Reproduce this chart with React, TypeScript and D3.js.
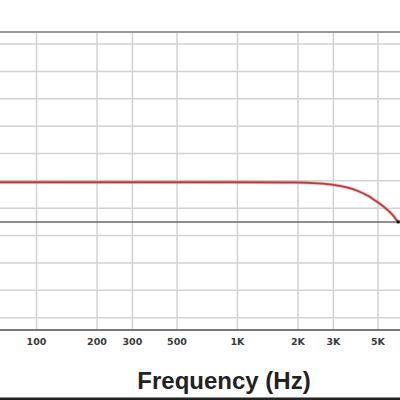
import React from 'react';
import * as d3 from 'd3';

// Frequency response (Hz, dB)
const freqs = [60, 100, 200, 500, 1000, 2000, 2500, 3000, 3500, 4000, 4500, 5000, 5500, 6000, 6300];
const levels = [-0.1, -0.1, -0.1, -0.1, -0.1, -0.12, -0.18, -0.29, -0.48, -0.76, -1.12, -1.58, -2.05, -2.6, -3.05];

const freqTicks = [100, 200, 300, 500, 1000, 2000, 3000, 5000];
const freqLabels = ['100', '200', '300', '500', '1K', '2K', '3K', '5K'];
const dbGrid = [-10, -8, -6, -4, -2, 0, 2, 4, 6, 8, 10];
const refLevel = -3;

const W = 400;
const H = 400;

export default function App() {
  const x = d3.scaleLog().domain([100, 1000]).range([36.5, 237.5]);
  const y = d3.scaleLinear().domain([10.88, -10.9]).range([32, 330]);

  const data = freqs.map((f, i) => ({ f, db: levels[i] }));
  const line = d3.line<{ f: number; db: number }>()
    .x(d => x(d.f))
    .y(d => y(d.db))
    .curve(d3.curveMonotoneX);

  const last = data[data.length - 1];
  const font = '"Liberation Sans", Arial, sans-serif';

  return (
    <svg width={W} height={H} style={{ position: 'absolute', left: 0, top: 0, background: '#fff' }}>
      {/* horizontal grid */}
      {dbGrid.map(d => (
        <line key={'h' + d} x1={0} x2={W} y1={y(d)} y2={y(d)} stroke="#d2d2d2" strokeWidth={1.5} />
      ))}
      {/* vertical grid */}
      {freqTicks.map(f => (
        <line key={'v' + f} x1={x(f)} x2={x(f)} y1={y.range()[0]} y2={y.range()[1]} stroke="#d2d2d2" strokeWidth={1.5} />
      ))}
      {/* frame top / bottom */}
      <line x1={0} x2={W} y1={y.range()[0]} y2={y.range()[0]} stroke="#999" strokeWidth={2} />
      <line x1={0} x2={W} y1={y.range()[1]} y2={y.range()[1]} stroke="#7a7a7a" strokeWidth={2} />
      {/* -3 dB reference */}
      <line x1={0} x2={W} y1={y(refLevel)} y2={y(refLevel)} stroke="#6a6a6a" strokeWidth={1.5} />

      {/* response curve */}
      <path d={line(data) || ''} fill="none" stroke="#e8a0a0" strokeWidth={3.5} strokeOpacity={0.6} />
      <path d={line(data) || ''} fill="none" stroke="#c0393b" strokeWidth={1.8} />
      <rect x={x(last.f) - 1.5} y={y(refLevel) - 1.5} width={3} height={3} fill="#111" />

      {/* tick labels */}
      {freqTicks.map((f, i) => (
        <text key={'t' + f} x={x(f)} y={345} textAnchor="middle" fontFamily='"DejaVu Sans", sans-serif'
          fontWeight="bold" fontSize={9.5} fill="#3a3a3a">{freqLabels[i]}</text>
      ))}

      <text x={224} y={389} textAnchor="middle" fontFamily={font} fontWeight="bold"
        fontSize={24} fill="#222">Frequency (Hz)</text>

      <rect x={0} y={397.5} width={W} height={2.5} fill="#222" />
    </svg>
  );
}
